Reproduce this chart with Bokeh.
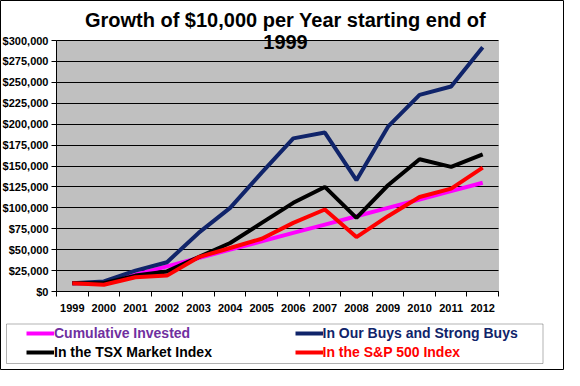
from bokeh.plotting import figure
from bokeh.models import (FixedTicker, NumeralTickFormatter, Legend, LegendItem,
                          Label, BoxAnnotation, Grid)
from bokeh.embed import file_html
from bokeh.resources import INLINE

years = [1999, 2000, 2001, 2002, 2003, 2004, 2005, 2006, 2007, 2008, 2009, 2010, 2011, 2012]
invested = [10000, 10000, 20000, 30000, 40000, 50000, 60000, 70000, 80000, 90000, 100000, 110000, 120000, 130000]
our_buys = [10000, 12000, 25000, 35000, 70000, 100000, 142000, 183000, 190000, 133000, 197000, 235000, 245000, 292000]
tsx = [10000, 10000, 19000, 24000, 41000, 58000, 82000, 106000, 125000, 88000, 127000, 158000, 149000, 164000]
sp500 = [10000, 8000, 17000, 19000, 41000, 52000, 63000, 82000, 98000, 65000, 90000, 113000, 123000, 148000]
y_ticks = [0, 25000, 50000, 75000, 100000, 125000, 150000, 175000, 200000, 225000, 250000, 275000, 300000]

series_names = ["Cumulative Invested", "In Our Buys and Strong Buys",
                "In the TSX Market Index", "In the S&P 500 Index"]
title_lines = ["Growth of $10,000 per Year starting end of", "1999"]

FONT = "Liberation Sans"
NAVY = "#10246A"

# ---- layout in pixels (whole canvas is the frame) ----
W, H = 564, 370
PL, PR, PT, PB = 56, 498, 40, 291          # plot (grey) area in canvas px
n = len(years)
xs = list(range(n))
x_lo, x_hi = -0.5, n - 0.5
y_lo, y_hi = 0, 300000
xpp = (x_hi - x_lo) / (PR - PL)
ypp = (y_hi - y_lo) / (PB - PT)
x_range = (x_lo - PL * xpp, x_hi + (W - PR) * xpp)
y_range = (y_lo - (H - PB) * ypp, y_hi + PT * ypp)

p = figure(width=W, height=H, output_backend="svg", toolbar_location=None, title=None,
           x_range=x_range, y_range=y_range,
           min_border_left=0, min_border_right=0, min_border_top=0, min_border_bottom=0,
           background_fill_color="white", border_fill_color="white")
p.outline_line_color = "black"
p.outline_line_width = 1

# grey plot area
p.add_layout(BoxAnnotation(left=x_lo, right=x_hi, bottom=y_lo, top=y_hi,
                           fill_color="#C0C0C0", fill_alpha=1,
                           line_color="#808080", line_width=1, level="image"))

# grid
p.xgrid.grid_line_color = None
p.ygrid.ticker = FixedTicker(ticks=y_ticks)
if "cross_bounds" in Grid.properties():
    p.ygrid.cross_bounds = (x_lo, x_hi)
    p.ygrid.grid_line_color = "black"
    p.ygrid.grid_line_width = 1
else:
    p.ygrid.grid_line_color = None
    p.segment(x0=[x_lo] * len(y_ticks), x1=[x_hi] * len(y_ticks), y0=y_ticks, y1=y_ticks,
              line_color="black", line_width=1)

# lines
r_inv = p.line(xs, invested, line_color="#FF00FF", line_width=4)
r_buy = p.line(xs, our_buys, line_color=NAVY, line_width=4)
r_tsx = p.line(xs, tsx, line_color="black", line_width=4)
r_sp = p.line(xs, sp500, line_color="#FF0000", line_width=4)

# y axis
p.yaxis.fixed_location = x_lo
p.yaxis.bounds = (y_lo, y_hi)
p.yaxis.ticker = FixedTicker(ticks=y_ticks)
p.yaxis.formatter = NumeralTickFormatter(format="$0,0")
p.yaxis.major_label_text_font = FONT
p.yaxis.major_label_text_font_style = "bold"
p.yaxis.major_label_text_font_size = "11px"
p.yaxis.major_label_text_color = "black"
p.yaxis.major_tick_out = 5
p.yaxis.major_tick_in = 0
p.yaxis.minor_tick_line_color = None
p.yaxis.axis_line_color = "black"
p.yaxis.major_tick_line_color = "black"
p.yaxis.major_label_standoff = 3

# x axis
p.xaxis.fixed_location = y_lo
p.xaxis.bounds = (x_lo, x_hi)
p.xaxis.ticker = FixedTicker(ticks=xs, minor_ticks=[i - 0.5 for i in range(n + 1)])
p.xaxis.major_label_overrides = {i: str(y) for i, y in zip(xs, years)}
p.xaxis.major_label_text_font = FONT
p.xaxis.major_label_text_font_style = "bold"
p.xaxis.major_label_text_font_size = "11px"
p.xaxis.major_label_text_color = "black"
p.xaxis.major_tick_out = 0
p.xaxis.major_tick_in = 0
p.xaxis.minor_tick_out = 5
p.xaxis.minor_tick_in = 0
p.xaxis.minor_tick_line_color = "black"
p.xaxis.axis_line_color = "black"
p.xaxis.major_label_standoff = 7

# title (screen units from frame bottom-left = canvas bottom-left)
for txt, x, y in [(title_lines[0], 285, H - 19.3), (title_lines[1], 285, H - 41.4)]:
    p.add_layout(Label(x=x, y=y, x_units="screen", y_units="screen", text=txt,
                       text_font=FONT, text_font_style="bold", text_font_size="20px",
                       text_align="center", text_baseline="middle", text_color="black"))

# legend box
p.add_layout(BoxAnnotation(left=6, right=542.5, top=H - 323.5, bottom=H - 363,
                           left_units="screen", right_units="screen",
                           top_units="screen", bottom_units="screen",
                           fill_alpha=0, line_color="black", line_width=1))

# legends (one per entry, for individual label colours)
entries = [
    (series_names[0], r_inv, "#7030A0", 26, 29),
    (series_names[1], r_buy, NAVY, 294.5, 29),
    (series_names[2], r_tsx, "black", 26, 10),
    (series_names[3], r_sp, "#FF0000", 294.5, 10),
]
for label, rend, col, lx, ly in entries:
    lg = Legend(items=[LegendItem(label=label, renderers=[rend])], location=(lx, ly),
                border_line_alpha=0, background_fill_alpha=0, padding=0, margin=0,
                glyph_width=28, glyph_height=14, label_height=14, label_standoff=0,
                label_text_font=FONT, label_text_font_style="bold",
                label_text_font_size="14px", label_text_color=col)
    p.add_layout(lg, "center")

open("out.html", "w").write(file_html(p, INLINE))
